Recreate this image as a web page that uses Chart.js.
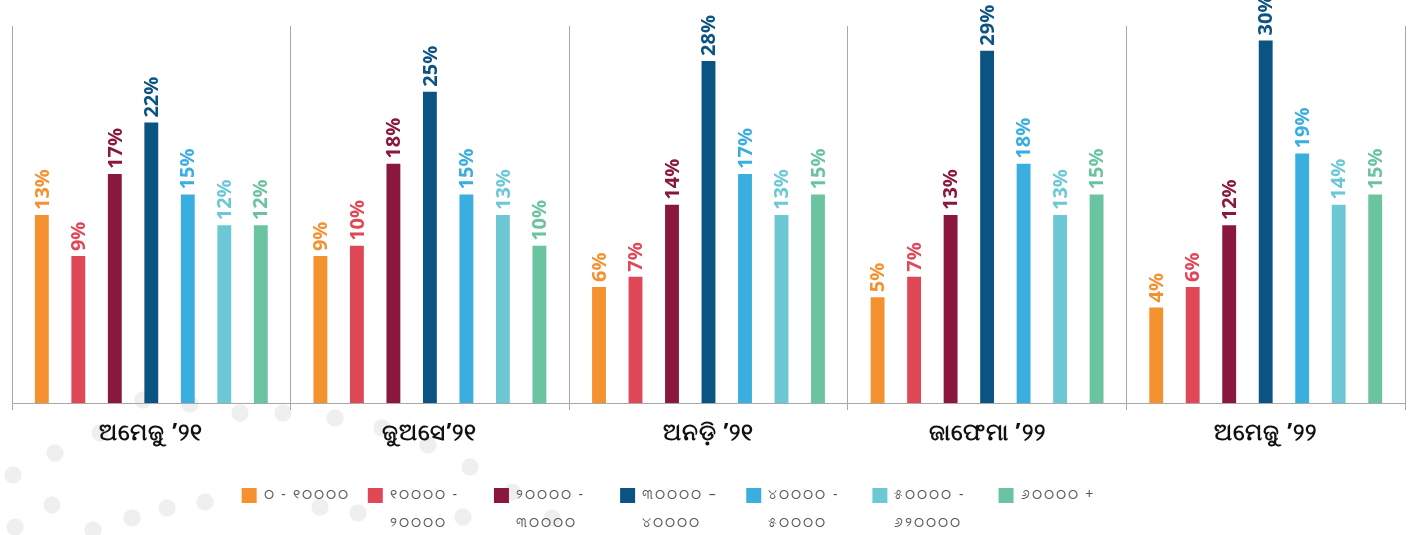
<!DOCTYPE html>
<html>
<head>
<meta charset="utf-8">
<script src="https://cdn.jsdelivr.net/npm/chart.js@4.4.1/dist/chart.umd.min.js"></script>
<style>
  html, body { margin: 0; padding: 0; background: #ffffff; }
  #wrap { position: relative; width: 1416px; height: 535px; }
  #dots { position: absolute; left: 0; top: 0; width: 1416px; height: 535px; }
  #c { position: absolute; left: 0; top: 0; }
</style>
</head>
<body>
<div id="wrap"><div id="dots"></div><canvas id="c" width="1416" height="535"></canvas></div>
<script>
const categories = ["ଅମେଜୁ ’୨୧", "ଜୁଅସେ’୨୧", "ଅନଡ଼ି ’୨୧", "ଜାଫେମା ’୨୨", "ଅମେଜୁ ’୨୨"];
const seriesNames = [
  "୦ - ୧୦୦୦୦",
  "୧୦୦୦୦ -\n୨୦୦୦୦",
  "୨୦୦୦୦ -\n୩୦୦୦୦",
  "୩୦୦୦୦ –\n୪୦୦୦୦",
  "୪୦୦୦୦ -\n୫୦୦୦୦",
  "୫୦୦୦୦ -\n୬୨୦୦୦୦",
  "୬୦୦୦୦ +"
];
const s0_10k   = [13, 9, 6, 5, 4];
const s10_20k  = [9, 10, 7, 7, 6];
const s20_30k  = [17, 18, 14, 13, 12];
const s30_40k  = [22, 25, 28, 29, 30];
const s40_50k  = [15, 15, 17, 18, 19];
const s50_60k  = [12, 13, 13, 13, 14];
const s60kPlus = [12, 10, 15, 15, 15];
const seriesValues = [s0_10k, s10_20k, s20_30k, s30_40k, s40_50k, s50_60k, s60kPlus];
const colors = ["#F5922F", "#E04858", "#8A173E", "#0B5383", "#3AAEDF", "#6DC8D6", "#6BC4A0"];

const Y_MIN = -5.3, Y_MAX = 31.4;

// faint decorative dots in the background
(function () {
  const pts = [[100,433],[55,453],[13,475],[52,505],[15,527],[93,530],[132,518],[167,508],[205,502],
               [240,413],[283,413],[335,418],[382,428],[428,445],[470,467],[320,507],[358,513],
               [463,517],[512,492],[552,518],[190,404],[143,400]];
  document.getElementById('dots').style.background = pts.map(p =>
    `radial-gradient(circle 9px at ${p[0]}px ${p[1]}px, #efefef 90%, rgba(239,239,239,0) 100%)`).join(',');
})();

const barLabels = {
  id: 'barLabels',
  afterDatasetsDraw(chart) {
    const ctx = chart.ctx;
    chart.data.datasets.forEach((ds, di) => {
      const meta = chart.getDatasetMeta(di);
      meta.data.forEach((el, i) => {
        ctx.save();
        ctx.letterSpacing = '0px';
        ctx.translate(el.x, el.y - 5);
        ctx.rotate(-Math.PI / 2);
        ctx.font = "bold 20px 'Open Sans'";
        ctx.fillStyle = ds.backgroundColor;
        ctx.textAlign = 'left';
        ctx.textBaseline = 'middle';
        ctx.fillText(ds.data[i] + '%', 0, 1);
        ctx.restore();
      });
    });
  }
};

const LEG_PAD = 35;
const LEG_EXTRA_H = 22;
const spacing = {
  id: 'spacing',
  beforeLayout(chart) {
    const L = chart.legend;
    if (L && !L._spaced) {
      const f = L.fit, d = L.draw;
      L.fit = function () {
        this.ctx.save(); this.ctx.letterSpacing = '2px';
        f.apply(this, arguments);
        this.ctx.restore();
        this.height += LEG_EXTRA_H;
      };
      L.draw = function () { this.ctx.save(); this.ctx.letterSpacing = '2px'; d.apply(this, arguments); this.ctx.restore(); };
      L._spaced = true;
    }
  },
  beforeDraw(chart) { chart.ctx.letterSpacing = '1px'; },
  beforeDatasetsDraw(chart) { chart.ctx.letterSpacing = '0px'; }
};

const X_AXIS_H = 489 - LEG_PAD - 404;

new Chart(document.getElementById('c'), {
  type: 'bar',
  data: {
    labels: categories,
    datasets: seriesNames.map((n, i) => ({
      label: n,
      data: seriesValues[i],
      backgroundColor: colors[i],
      base: Y_MIN,
      barPercentage: 0.38,
      categoryPercentage: 0.917
    }))
  },
  options: {
    responsive: false,
    animation: false,
    devicePixelRatio: 1,
    layout: { padding: { top: 26, left: 12, right: 11, bottom: 0 } },
    scales: {
      x: {
        grid: { offset: true, color: '#a8a8a8', lineWidth: 1, tickLength: 7, drawOnChartArea: true },
        border: { color: '#a8a8a8' },
        ticks: { color: '#111', font: { family: "'Noto Sans', 'Open Sans'", size: 23, weight: 'bold' }, maxRotation: 0, padding: 10 },
        afterFit(axis) { axis.height = X_AXIS_H; }
      },
      y: { display: false, min: Y_MIN, max: Y_MAX }
    },
    plugins: {
      legend: {
        position: 'bottom',
        labels: {
          boxWidth: 15, boxHeight: 15, padding: LEG_PAD,
          color: '#555',
          font: { family: "'Noto Sans', 'Open Sans'", size: 14, lineHeight: 2 },
          generateLabels(chart) {
            const items = Chart.defaults.plugins.legend.labels.generateLabels(chart);
            items.forEach((it, i) => {
              const lines = it.text.split('\n');
              const m = lines.slice();
              const measure = "୧୦୦୦୦ -" + (i === items.length - 1 ? "\u2003\u2003\u2003\u2003\u2003 " : "");
              m.toString = () => measure;
              it.text = m;
              it.lineWidth = 0;
            });
            return items;
          }
        }
      },
      tooltip: { enabled: false }
    }
  },
  plugins: [spacing, barLabels]
});
</script>
</body>
</html>
